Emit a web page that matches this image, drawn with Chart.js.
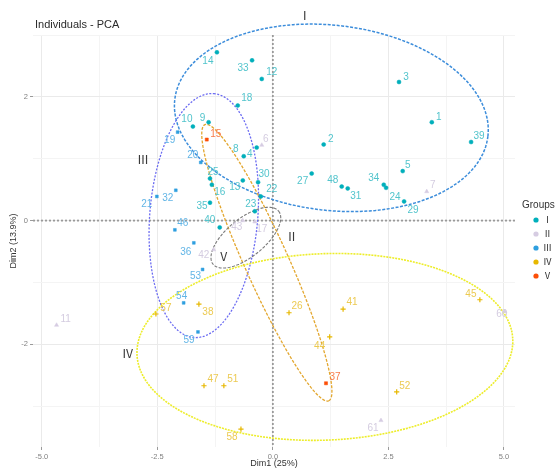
<!DOCTYPE html>
<html>
<head>
<meta charset="utf-8">
<script src="https://cdn.jsdelivr.net/npm/chart.js@4/dist/chart.umd.min.js"></script>
<style>
  html, body { margin: 0; padding: 0; background: #ffffff; }
  #wrap { width: 556px; height: 469px; }
</style>
</head>
<body>
<div id="wrap"><canvas id="c" width="556" height="469"></canvas></div>
<script>
// ---- PCA individuals, coordinates on Dim1 / Dim2 ----
const groupNames = ['Ⅰ', 'Ⅱ', 'Ⅲ', 'Ⅳ', 'Ⅴ'];

const groupI_ids = ['14','33','12','18','3','1','39','2','5','27','48','31','34','24','29','9','10','8','4','30','13','16','25','22','23','35','40'];
const groupI_x   = [-1.21,-0.45,-0.24,-0.76,2.73,3.44,4.29,1.10,2.81,0.84,1.49,1.62,2.40,2.45,2.84,-1.39,-1.73,-0.63,-0.35,-0.32,-0.65,-1.32,-1.36,-0.26,-0.39,-1.36,-1.15];
const groupI_y   = [2.72,2.59,2.29,1.86,2.24,1.59,1.27,1.23,0.80,0.76,0.55,0.52,0.58,0.53,0.31,1.59,1.52,1.04,1.18,0.62,0.65,0.58,0.68,0.39,0.15,0.29,-0.11];

const groupII_ids = ['7','11','42','61','60','6','17','43'];
const groupII_x   = [3.33,-4.68,-1.28,2.34,5.02,-0.24,-0.39,-0.65];
const groupII_y   = [0.47,-1.69,-0.47,-3.23,-1.47,1.22,-0.02,0.00];

const groupIII_ids = ['19','20','32','21','46','36','53','54','59'];
const groupIII_x   = [-2.06,-1.56,-2.10,-2.51,-2.12,-1.71,-1.52,-1.93,-1.62];
const groupIII_y   = [1.43,0.94,0.49,0.39,-0.15,-0.36,-0.79,-1.33,-1.80];

const groupIV_ids = ['38','57','47','51','58','26','41','44','52','45'];
const groupIV_x   = [-1.60,-2.53,-1.49,-1.06,-0.69,0.35,1.52,1.23,2.68,4.48];
const groupIV_y   = [-1.35,-1.51,-2.67,-2.67,-3.37,-1.49,-1.43,-1.88,-2.77,-1.28];

const groupV_ids = ['15','37'];
const groupV_x   = [-1.43,1.15];
const groupV_y   = [1.31,-2.63];

// Label nudges (pixels) so text sits beside each point
const groupI_nudge   = [[-9,9],[-9,8],[10,-7],[9,-7],[7,-5],[7,-5],[8,-6],[7,-5],[5,-6],[-9,8],[-9,-6],[8,8],[-10,-6],[9,9],[9,9],[-6,-4],[-6,-7],[-8,-7],[-7,7],[6,-8],[-8,7],[8,8],[3,-6],[11,-7],[-4,-7],[-8,4],[-10,-7]];
const groupII_nudge  = [[6,-6],[9,-6],[-10,6],[-8,8],[-3,3],[4,-6],[7,7],[-6,7]];
const groupIII_nudge = [[-8,8],[-8,-7],[-8,8],[-10,8],[8,-7],[-8,9],[-7,7],[-2,-7],[-9,8]];
const groupIV_nudge  = [[9,8],[10,-6],[9,-7],[9,-7],[-9,8],[8,-7],[9,-7],[-10,9],[8,-6],[-9,-6]];
const groupV_nudge   = [[9,-5],[9,-6]];

// Concentration ellipses: centre and two conjugate semi-axis vectors (Dim1, Dim2 units)
const ellipseCx = [1.266, -1.494, -0.130, -0.584, 1.126];
const ellipseCy = [1.661, 0.081, -0.681, -0.276, -2.042];
const ellipseU  = [[3.388,-0.298],[0.216,1.971],[1.340,-2.232],[0.709,0.429],[4.066,0.122]];
const ellipseV  = [[-0.233,-1.486],[1.165,-0.072],[0.434,0.146],[0.259,-0.240],[0.080,-1.506]];

// Ellipse tags
const tagText = ['Ⅰ', 'Ⅲ', 'Ⅱ', 'Ⅴ', 'Ⅳ'];
const tagX    = [0.69, -2.81, 0.41, -1.06, -3.14];
const tagY    = [3.31, 0.99, -0.26, -0.58, -2.14];

// Axis ticks
const xMajorTicks = [-5, -2.5, 0, 2.5, 5];
const xMinorTicks = [-3.75, -1.25, 1.25, 3.75];
const yMajorTicks = [-2, 0, 2];
const yMinorTicks = [-3, -1, 1, 3];

// ---- styling ----
const pointColors = ['#00AFBB', '#D6CCE2', '#2E9FDF', '#E7B800', '#FC4E07'];
const labelColors = ['#52C4CC', '#D4CCE0', '#62B5E6', '#ECCA52', '#F87C4A'];
const pointShapes = ['circle', 'triangle', 'rect', 'cross', 'rect'];
const pointSizes  = [2, 2.4, 2, 2.6, 2.2];
const ellipseStyles = [
  { color: '#3C8DDB', width: 1.5, dash: [3, 1.5] },
  { color: '#6C6CF2', width: 1.3, dash: [2, 1.5] },
  { color: '#E3A72F', width: 1.3, dash: [3, 1.5] },
  { color: '#7A7A7A', width: 1.1, dash: [3, 1.5] },
  { color: '#EDED2A', width: 1.6, dash: [2, 1] }
];

const ids    = [groupI_ids, groupII_ids, groupIII_ids, groupIV_ids, groupV_ids];
const xs     = [groupI_x, groupII_x, groupIII_x, groupIV_x, groupV_x];
const ys     = [groupI_y, groupII_y, groupIII_y, groupIV_y, groupV_y];
const nudges = [groupI_nudge, groupII_nudge, groupIII_nudge, groupIV_nudge, groupV_nudge];

const datasets = groupNames.map((g, gi) => ({
  label: g,
  data: xs[gi].map((x, i) => ({ x: x, y: ys[gi][i] })),
  pointStyle: pointShapes[gi],
  pointRadius: pointSizes[gi],
  pointHoverRadius: pointSizes[gi],
  backgroundColor: pointColors[gi],
  borderColor: pointColors[gi],
  borderWidth: gi === 3 ? 1.2 : 0.5
}));

const FONT = '"Liberation Sans", Arial, sans-serif';
const NUMERAL_FONT = '"Noto Sans CJK SC", "DejaVu Sans", sans-serif';

const pcaDecor = {
  id: 'pcaDecor',
  beforeDatasetsDraw(chart) {
    const ctx = chart.ctx, sx = chart.scales.x, sy = chart.scales.y, a = chart.chartArea;
    ctx.save();
    // reference lines at the origin
    ctx.strokeStyle = '#9A9A9A';
    ctx.lineWidth = 1.8;
    ctx.setLineDash([2, 2]);
    const x0 = sx.getPixelForValue(0), y0 = sy.getPixelForValue(0);
    ctx.beginPath(); ctx.moveTo(a.left, y0); ctx.lineTo(a.right, y0); ctx.stroke();
    ctx.beginPath(); ctx.moveTo(x0, a.top); ctx.lineTo(x0, a.bottom); ctx.stroke();
    // ellipses
    for (let e = 0; e < ellipseCx.length; e++) {
      const st = ellipseStyles[e];
      ctx.strokeStyle = st.color; ctx.lineWidth = st.width; ctx.setLineDash(st.dash);
      ctx.beginPath();
      const n = 160;
      for (let k = 0; k <= n; k++) {
        const t = k / n * Math.PI * 2;
        const dx = ellipseCx[e] + ellipseU[e][0] * Math.cos(t) + ellipseV[e][0] * Math.sin(t);
        const dy = ellipseCy[e] + ellipseU[e][1] * Math.cos(t) + ellipseV[e][1] * Math.sin(t);
        const px = sx.getPixelForValue(dx), py = sy.getPixelForValue(dy);
        if (k === 0) ctx.moveTo(px, py); else ctx.lineTo(px, py);
      }
      ctx.stroke();
    }
    ctx.restore();
  },
  afterDatasetsDraw(chart) {
    const ctx = chart.ctx, sx = chart.scales.x, sy = chart.scales.y;
    ctx.save();
    ctx.font = '10px ' + FONT;
    ctx.textAlign = 'center';
    ctx.textBaseline = 'middle';
    chart.data.datasets.forEach((ds, gi) => {
      const meta = chart.getDatasetMeta(gi);
      ctx.fillStyle = labelColors[gi];
      meta.data.forEach((el, i) => {
        const nd = nudges[gi][i];
        ctx.fillText(ids[gi][i], el.x + nd[0], el.y + nd[1]);
      });
    });
    // ellipse tags
    ctx.fillStyle = '#3A3A3A';
    ctx.font = '12px ' + NUMERAL_FONT;
    tagText.forEach((t, i) => {
      ctx.fillText(t, sx.getPixelForValue(tagX[i]), sy.getPixelForValue(tagY[i]));
    });
    ctx.restore();
  },
  afterDraw(chart) {
    const ctx = chart.ctx, a = chart.chartArea;
    ctx.save();
    // title
    ctx.fillStyle = '#2B2B2B';
    ctx.font = '11px ' + FONT;
    ctx.textAlign = 'left';
    ctx.textBaseline = 'middle';
    ctx.fillText('Individuals - PCA', 35, 25);
    // axis titles
    ctx.font = '9px ' + FONT;
    ctx.fillStyle = '#333333';
    ctx.textAlign = 'center';
    ctx.fillText('Dim1 (25%)', (a.left + a.right) / 2, 464);
    ctx.save();
    ctx.translate(14, (a.top + a.bottom) / 2);
    ctx.rotate(-Math.PI / 2);
    ctx.fillText('Dim2 (13.9%)', 0, 0);
    ctx.restore();
    // legend
    ctx.textAlign = 'left';
    ctx.fillStyle = '#333333';
    ctx.font = '10px ' + FONT;
    ctx.fillText('Groups', 522, 205);
    groupNames.forEach((g, gi) => {
      const yy = 220 + gi * 14;
      ctx.fillStyle = pointColors[gi];
      ctx.beginPath();
      ctx.arc(536, yy, 2.6, 0, Math.PI * 2);
      ctx.fill();
      ctx.fillStyle = '#333333';
      ctx.font = '9px ' + NUMERAL_FONT;
      ctx.fillText(g, 543, yy);
    });
    ctx.restore();
  }
};

function gridColor(majors) {
  return (c) => (c.tick && majors.includes(c.tick.value)) ? '#EAEAEA' : '#F4F4F4';
}
function tickMarkColor(majors) {
  return (c) => (c.tick && majors.includes(c.tick.value)) ? '#9A9A9A' : 'rgba(0,0,0,0)';
}

new Chart(document.getElementById('c'), {
  type: 'scatter',
  data: { datasets: datasets },
  plugins: [pcaDecor],
  options: {
    responsive: false,
    animation: false,
    devicePixelRatio: 1,
    layout: { padding: { top: 35, right: 41, left: 0, bottom: 0 } },
    plugins: { legend: { display: false }, tooltip: { enabled: false }, title: { display: false } },
    scales: {
      x: {
        type: 'linear',
        min: -5.19, max: 5.24,
        afterBuildTicks: (s) => { s.ticks = xMajorTicks.concat(xMinorTicks).sort((p, q) => p - q).map(v => ({ value: v })); },
        afterFit: (s) => { s.height = 22; },
        border: { display: false },
        grid: { color: gridColor(xMajorTicks), tickColor: tickMarkColor(xMajorTicks), tickLength: 3, lineWidth: 1 },
        ticks: {
          autoSkip: false, maxRotation: 0, padding: 2,
          color: '#808080', font: { size: 7.5, family: FONT },
          callback: (v) => xMajorTicks.includes(v) ? v.toFixed(1) : ''
        }
      },
      y: {
        type: 'linear',
        min: -3.66, max: 3.0,
        afterBuildTicks: (s) => { s.ticks = yMajorTicks.concat(yMinorTicks).sort((p, q) => p - q).map(v => ({ value: v })); },
        afterFit: (s) => { s.width = 33; },
        border: { display: false },
        grid: { color: gridColor(yMajorTicks), tickColor: tickMarkColor(yMajorTicks), tickLength: 3, lineWidth: 1 },
        ticks: {
          autoSkip: false, padding: 2,
          color: '#808080', font: { size: 7.5, family: FONT },
          callback: (v) => yMajorTicks.includes(v) ? String(v) : ''
        }
      }
    }
  }
});
</script>
</body>
</html>
